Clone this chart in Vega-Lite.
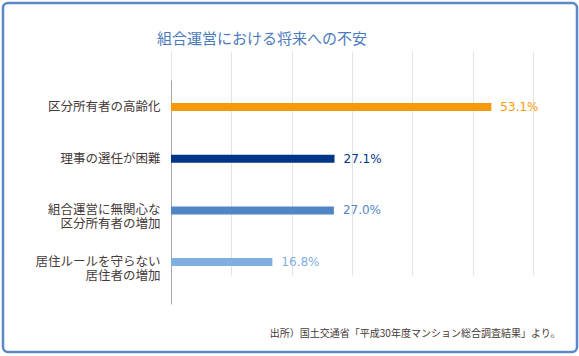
{
  "$schema": "https://vega.github.io/schema/vega-lite/v6.json",
  "width": 574,
  "height": 349,
  "autosize": {"type": "none"},
  "padding": {"left": 3, "top": 3, "right": 2, "bottom": 4},
  "background": "white",
  "title": {
    "text": "組合運営における将来への不安",
    "font": "Noto Sans CJK JP",
    "fontSize": 15,
    "fontWeight": "normal",
    "color": "#4c7bbd",
    "anchor": "middle",
    "frame": "group",
    "dx": -28,
    "offset": -51,
    "baseline": "middle"
  },
  "config": {
    "view": {"stroke": "#5b88c6", "strokeWidth": 2.5, "cornerRadius": 5}
  },
  "data": {
    "values": [
      {"item": "区分所有者の高齢化", "value": 53.1},
      {"item": "理事の選任が困難", "value": 27.1},
      {"item": "組合運営に無関心な\n区分所有者の増加", "value": 27.0},
      {"item": "居住ルールを守らない\n居住者の増加", "value": 16.8}
    ]
  },
  "encoding": {
    "y": {
      "field": "item",
      "type": "nominal",
      "sort": null,
      "scale": {"range": [77, 301], "paddingInner": 0, "paddingOuter": 0.167, "align": 0.07},
      "axis": {
        "title": null,
        "offset": -168,
        "domainColor": "#a6a6a6",
        "domainWidth": 1,
        "ticks": false,
        "tickSize": 0,
        "labelPadding": 11,
        "labelFont": "Noto Sans CJK JP",
        "labelFontSize": 12.5,
        "labelColor": "#463a3a",
        "labelLineHeight": 14,
        "labelLimit": 0,
        "labelExpr": "split(datum.value, '\\n')",
        "grid": false
      }
    },
    "x": {
      "field": "value",
      "type": "quantitative",
      "scale": {"domain": [0, 60], "range": [168, 530], "nice": false},
      "axis": {
        "values": [0, 10, 20, 30, 40, 50, 60],
        "grid": true,
        "gridColor": "#e3e3e3",
        "gridWidth": 1,
        "domain": false,
        "ticks": false,
        "labels": false,
        "title": "出所）国土交通省「平成30年度マンション総合調査結果」より。",
        "titleFont": "Noto Sans CJK JP",
        "titleFontSize": 10,
        "titleFontWeight": "normal",
        "titleColor": "#463a3a",
        "titleAlign": "right",
        "titleAnchor": "end",
        "titleX": 557,
        "titleY": -19,
        "titleBaseline": "middle"
      }
    },
    "color": {
      "field": "item",
      "type": "nominal",
      "sort": null,
      "scale": {
        "domain": ["区分所有者の高齢化", "理事の選任が困難", "組合運営に無関心な\n区分所有者の増加", "居住ルールを守らない\n居住者の増加"],
        "range": ["#f59a0a", "#003687", "#5186c6", "#80aee0"]
      },
      "legend": null
    }
  },
  "layer": [
    {"mark": {"type": "bar", "size": 8}},
    {
      "transform": [{"calculate": "format(datum.value, '.1f') + '%'", "as": "label"}],
      "mark": {"type": "text", "align": "left", "baseline": "middle", "dx": 9, "font": "DejaVu Sans", "fontSize": 12},
      "encoding": {"text": {"field": "label", "type": "nominal"}}
    }
  ]
}
